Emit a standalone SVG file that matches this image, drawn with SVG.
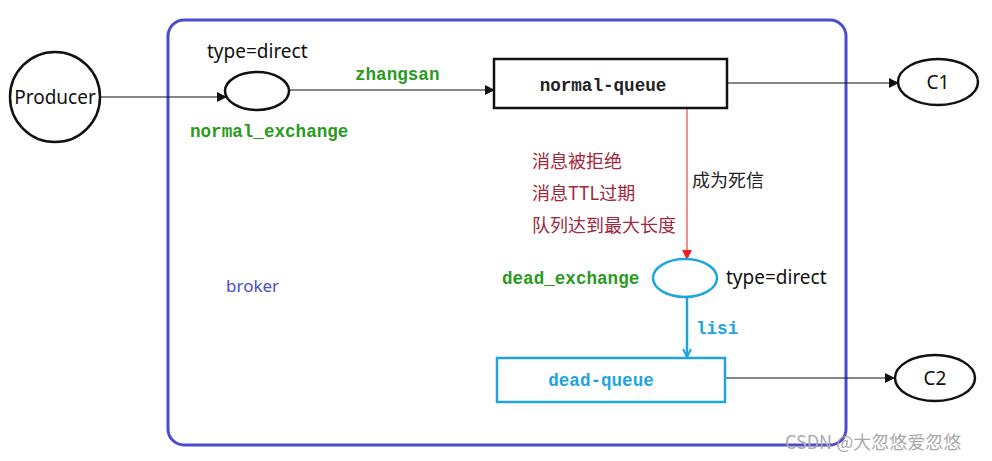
<svg xmlns="http://www.w3.org/2000/svg" width="992" height="461" viewBox="0 0 992 461">
<style>
.sans{font-family:"Noto Sans","DejaVu Sans","Liberation Sans",sans-serif;font-size:19px;fill:#111}
.mono{font-family:"Liberation Mono","DejaVu Sans Mono",monospace;font-size:17.6px;font-weight:bold}
.green{fill:#2a9a1e}
.cn{font-family:"Noto Sans CJK SC","Noto Sans",sans-serif;font-size:18px}
.red{fill:#a0283c}
.blk{fill:none;stroke:#111;stroke-width:2.5}
.blue{fill:none;stroke:#1ea5e0;stroke-width:2.5}
.line{fill:none;stroke:#111;stroke-width:1.2}
</style>
<defs>
<marker id="ah" markerWidth="10" markerHeight="10" refX="9" refY="5" orient="auto" markerUnits="userSpaceOnUse"><path d="M0,0 L10,5 L0,10 z" fill="#111"/></marker>
<marker id="ahr" markerWidth="10" markerHeight="10" refX="9" refY="5" orient="auto" markerUnits="userSpaceOnUse"><path d="M0,0 L10,5 L0,10 z" fill="#f02020"/></marker>
<marker id="ahb" markerWidth="10" markerHeight="10" refX="9" refY="5" orient="auto" markerUnits="userSpaceOnUse"><path d="M1,1 L9,5 L1,9" fill="none" stroke="#1ea5e0" stroke-width="2"/></marker>
</defs>
<rect width="992" height="461" fill="#fff"/>
<g id="broker">
<rect x="168" y="20" width="678" height="425" rx="16" fill="none" stroke="#4b4bd0" stroke-width="3"/>
<text x="226" y="292" class="sans" style="fill:#4b4bd0;font-size:17px">broker</text>
</g>
<g id="connectors">
<line x1="100" y1="97" x2="226" y2="97" class="line" marker-end="url(#ah)"/>
<line x1="290" y1="90" x2="494" y2="90" class="line" marker-end="url(#ah)"/>
<text x="355" y="80" class="mono green">zhangsan</text>
<line x1="727" y1="83" x2="898" y2="83" class="line" marker-end="url(#ah)"/>
<line x1="687" y1="108" x2="687" y2="259" fill="none" stroke="#f04040" stroke-width="1.2" marker-end="url(#ahr)"/>
<text x="692" y="187" class="cn" style="fill:#222">成为死信</text>
<line x1="687" y1="298" x2="687" y2="357" fill="none" stroke="#1ea5e0" stroke-width="2.5" marker-end="url(#ahb)"/>
<text x="696" y="334" class="mono" style="fill:#1ea5e0">lisi</text>
<line x1="725" y1="378" x2="894" y2="378" class="line" marker-end="url(#ah)"/>
</g>
<g id="producer">
<circle cx="55" cy="97" r="45" class="blk"/>
<text x="55" y="104" class="sans" text-anchor="middle">Producer</text>
</g>
<g id="normal_exchange">
<ellipse cx="257" cy="91" rx="32" ry="19" class="blk"/>
<text x="207" y="58" class="sans">type=direct</text>
<text x="190" y="137" class="mono green">normal_exchange</text>
</g>
<g id="normal_queue">
<rect x="494" y="59" width="233" height="49" class="blk"/>
<text x="603" y="91" class="mono" text-anchor="middle" style="fill:#222">normal-queue</text>
</g>
<g id="reasons">
<text x="532" y="168" class="cn red">消息被拒绝</text>
<text x="532" y="200" class="cn red">消息TTL过期</text>
<text x="532" y="232" class="cn red">队列达到最大长度</text>
</g>
<g id="c1">
<ellipse cx="938" cy="82" rx="40" ry="23" class="blk"/>
<text x="938" y="89" class="sans" text-anchor="middle">C1</text>
</g>
<g id="dead_exchange">
<ellipse cx="685" cy="278" rx="32" ry="19" class="blue"/>
<text x="502" y="284" class="mono green">dead_exchange</text>
<text x="726" y="284" class="sans">type=direct</text>
</g>
<g id="dead_queue">
<rect x="497" y="358" width="228" height="44" class="blue"/>
<text x="601" y="386" class="mono" text-anchor="middle" style="fill:#1ea5e0">dead-queue</text>
</g>
<g id="c2">
<ellipse cx="935" cy="378" rx="40" ry="23" class="blk"/>
<text x="935" y="385" class="sans" text-anchor="middle">C2</text>
</g>
<text x="785" y="449" class="cn" style="fill:#aaa;font-size:18px">CSDN @大忽悠爱忽悠</text>
</svg>
